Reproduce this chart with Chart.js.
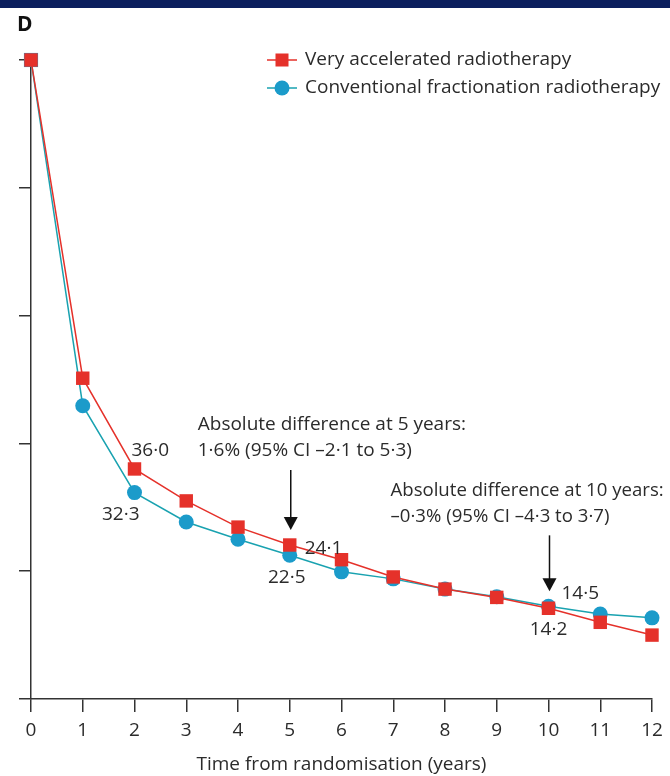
<!DOCTYPE html>
<html>
<head>
<meta charset="utf-8">
<script src="https://cdn.jsdelivr.net/npm/chart.js@4/dist/chart.umd.min.js"></script>
<style>
  html, body { margin: 0; padding: 0; background: #fff; }
  #topbar { height: 8px; background: #0b1f5e; }
  #wrap { position: relative; width: 670px; height: 768px; }
  #panel { position: absolute; left: 17px; top: 1px; font: bold 21px "Open Sans", sans-serif; color: #111; }
</style>
</head>
<body>
<div id="topbar"></div>
<div id="wrap">
  <div id="panel">D</div>
  <canvas id="myChart" width="670" height="768"></canvas>
</div>
<script>
// Years since randomisation
const years = [0, 1, 2, 3, 4, 5, 6, 7, 8, 9, 10, 11, 12];

// Survival (%) per arm
const veryAccelerated = [100, 50.2, 36.0, 31.0, 26.9, 24.1, 21.8, 19.1, 17.2, 15.9, 14.2, 12.0, 10.0];
const conventional = [100, 45.9, 32.3, 27.7, 25.0, 22.5, 19.9, 18.8, 17.2, 16.0, 14.5, 13.3, 12.7];

const seriesNames = ['Very accelerated radiotherapy', 'Conventional fractionation radiotherapy'];
const yTicks = [0, 20, 40, 60, 80, 100];
const xTicks = [0, 1, 2, 3, 4, 5, 6, 7, 8, 9, 10, 11, 12];

// Labelled values at the highlighted years
const labelYears = [2, 5, 10];
const diffNotes = [
    { year: 5, lines: ['Absolute difference at 5 years:', '1·6% (95% CI –2·1 to 5·3)'] },
    { year: 10, lines: ['Absolute difference at 10 years:', '–0·3% (95% CI –4·3 to 3·7)'] }
];

const RED = '#e5312a';
const CYAN = '#1b9bca';
const CYAN_LINE = '#19a2b0';
const FONT = '"Open Sans", sans-serif';
const TEXT = '#2b2b2b';

function fmt(v) {
    return v.toFixed(1).replace('.', '·');
}

// Legend, value labels and arrows drawn on top of the plot
const overlay = {
    id: 'overlay',
    afterDatasetsDraw(chart) {
        const ctx = chart.ctx;
        const xs = chart.scales.x;
        const ys = chart.scales.y;
        ctx.save();

        // legend
        const lx = 282, ly = [52, 80];
        ctx.lineWidth = 1.5;
        ctx.strokeStyle = RED;
        ctx.beginPath(); ctx.moveTo(lx - 15, ly[0]); ctx.lineTo(lx + 15, ly[0]); ctx.stroke();
        ctx.fillStyle = RED;
        ctx.fillRect(lx - 6.5, ly[0] - 6.5, 13, 13);
        ctx.strokeStyle = CYAN_LINE;
        ctx.beginPath(); ctx.moveTo(lx - 15, ly[1]); ctx.lineTo(lx + 15, ly[1]); ctx.stroke();
        ctx.fillStyle = CYAN;
        ctx.beginPath(); ctx.arc(lx, ly[1], 7.5, 0, Math.PI * 2); ctx.fill();
        ctx.fillStyle = TEXT;
        ctx.font = '19px ' + FONT;
        ctx.textBaseline = 'middle';
        ctx.textAlign = 'left';
        ctx.fillText(seriesNames[0], lx + 23, ly[0]);
        ctx.fillText(seriesNames[1], lx + 23, ly[1]);

        // value labels
        ctx.font = '19px ' + FONT;
        labelYears.forEach(yr => {
            const i = years.indexOf(yr);
            const x = xs.getPixelForValue(yr);
            const yr1 = ys.getPixelForValue(veryAccelerated[i]);
            const yr2 = ys.getPixelForValue(conventional[i]);
            if (yr === 2) {
                ctx.textAlign = 'left';
                ctx.fillText(fmt(veryAccelerated[i]), x - 3, yr1 - 18);
                ctx.textAlign = 'right';
                ctx.fillText(fmt(conventional[i]), x + 5, yr2 + 22);
            } else if (yr === 5) {
                ctx.textAlign = 'left';
                ctx.fillText(fmt(veryAccelerated[i]), x + 15, yr1 + 4);
                ctx.textAlign = 'center';
                ctx.fillText(fmt(conventional[i]), x - 3, yr2 + 22);
            } else {
                ctx.textAlign = 'left';
                ctx.fillText(fmt(conventional[i]), x + 13, yr2 - 13);
                ctx.textAlign = 'center';
                ctx.fillText(fmt(veryAccelerated[i]), x, yr1 + 21);
            }
        });

        // difference notes with arrows
        diffNotes.forEach(n => {
            const i = years.indexOf(n.year);
            const x = xs.getPixelForValue(n.year) + 1;
            const top = Math.min(ys.getPixelForValue(veryAccelerated[i]), ys.getPixelForValue(conventional[i]));
            const tip = top - 15;
            const start = tip - (n.year === 5 ? 60 : 56);
            ctx.strokeStyle = '#111';
            ctx.lineWidth = 1.5;
            ctx.beginPath(); ctx.moveTo(x, start); ctx.lineTo(x, tip - 10); ctx.stroke();
            ctx.fillStyle = '#111';
            ctx.beginPath();
            ctx.moveTo(x - 7, tip - 13); ctx.lineTo(x + 7, tip - 13); ctx.lineTo(x, tip);
            ctx.closePath(); ctx.fill();
            ctx.fillStyle = TEXT;
            ctx.textAlign = 'left';
            ctx.font = (n.year === 5 ? 19 : 18.6) + 'px ' + FONT;
            const left = n.year === 5 ? x - 93 : x - 159;
            ctx.fillText(n.lines[0], left, start - 45);
            ctx.fillText(n.lines[1], left, start - 19);
        });
        ctx.restore();
    }
};

const ctx = document.getElementById('myChart').getContext('2d');
const myChart = new Chart(ctx, {
    type: 'line',
    data: {
        labels: years,
        datasets: [
            {
                label: seriesNames[0],
                data: years.map((x, i) => ({ x: x, y: veryAccelerated[i] })),
                borderColor: RED,
                backgroundColor: RED,
                borderWidth: 1.5,
                pointStyle: 'rect',
                pointRadius: 9.5,
                pointBorderWidth: 0,
                tension: 0,
                clip: false
            },
            {
                label: seriesNames[1],
                data: years.map((x, i) => ({ x: x, y: conventional[i] })),
                borderColor: CYAN_LINE,
                backgroundColor: CYAN,
                borderWidth: 1.5,
                pointStyle: years.map(x => x === 0 ? 'rect' : 'circle'),
                pointRadius: years.map(x => x === 0 ? 10 : 7.5),
                pointBorderWidth: 0,
                tension: 0,
                clip: false
            }
        ]
    },
    options: {
        responsive: false,
        animation: false,
        layout: { padding: { left: 19, right: 18, top: 52, bottom: 0 } },
        plugins: {
            legend: { display: false },
            tooltip: { enabled: false }
        },
        scales: {
            x: {
                type: 'linear',
                min: 0,
                max: 12,
                afterBuildTicks: s => { s.ticks = xTicks.map(v => ({ value: v })); },
                afterFit: s => { s.height = 77; },
                grid: { drawOnChartArea: false, tickLength: 13, color: '#333', lineWidth: 1.5 },
                border: { color: '#333', width: 1.5 },
                ticks: { color: TEXT, font: { family: FONT, size: 19 }, padding: 7, maxRotation: 0 },
                title: {
                    display: true,
                    text: 'Time from randomisation (years)',
                    color: TEXT,
                    font: { family: FONT, size: 19 },
                    padding: { top: 4, bottom: 0 }
                }
            },
            y: {
                min: 0,
                max: 100,
                afterBuildTicks: s => { s.ticks = yTicks.map(v => ({ value: v })); },
                afterFit: s => { s.width = 12; },
                grid: { drawOnChartArea: false, tickLength: 12, color: '#333', lineWidth: 1.5 },
                border: { color: '#333', width: 1.5 },
                ticks: { display: false }
            }
        }
    },
    plugins: [overlay]
});
</script>
</body>
</html>
